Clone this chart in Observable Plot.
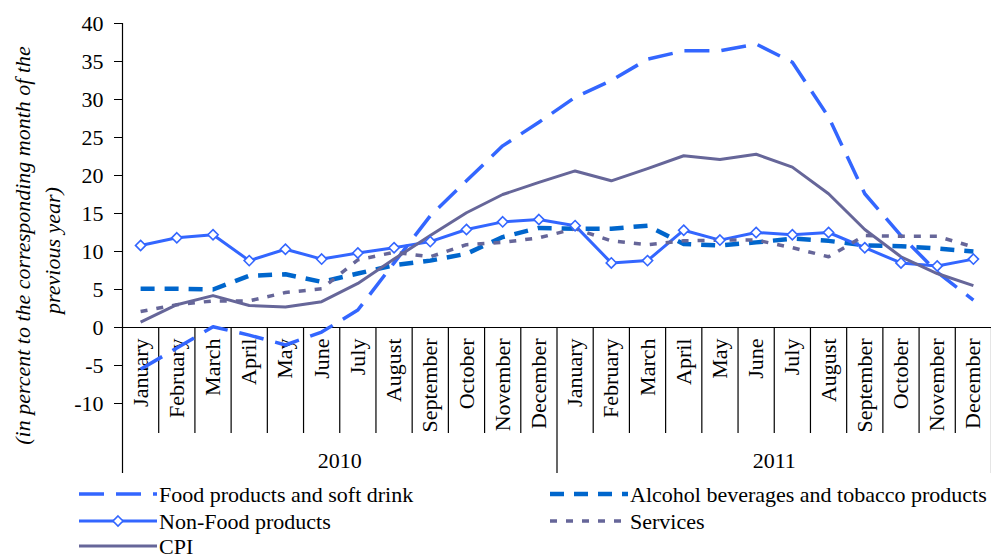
<!DOCTYPE html>
<html>
<head>
<meta charset="utf-8">
<script src="https://cdn.jsdelivr.net/npm/d3@7"></script>
<script src="https://cdn.jsdelivr.net/npm/@observablehq/plot@0.6"></script>
<style>
  html, body { margin: 0; padding: 0; background: white; }
  #wrap { width: 991px; height: 558px; position: relative; overflow: hidden; font-family: "Liberation Serif", "DejaVu Serif", serif; }
  #legend { display: block; }
</style>
</head>
<body>
<div id="wrap"></div>
<script>
// ---- data ----
const monthNames = ["January","February","March","April","May","June","July","August","September","October","November","December"];
const years = ["2010", "2011"];
const months = years.flatMap(() => monthNames);
const yTicks = [-10, -5, 0, 5, 10, 15, 20, 25, 30, 35, 40];

const food     = [-5.5, -2.7, 0.1, -1.0, -2.3, -0.6, 2.3, 8.5, 14.7, 19.3, 23.9, 27.0, 30.3, 32.5, 35.3, 36.4, 36.4, 37.3, 34.9, 27.7, 17.6, 12.1, 7.3, 3.6];
const alcohol  = [5.1, 5.1, 5.0, 6.8, 7.0, 6.0, 7.1, 8.2, 8.8, 9.7, 11.9, 13.1, 13.0, 13.0, 13.4, 11.0, 10.8, 11.2, 11.7, 11.4, 10.8, 10.7, 10.4, 10.0];
const nonFood  = [10.8, 11.8, 12.2, 8.8, 10.3, 9.0, 9.8, 10.5, 11.3, 12.9, 13.9, 14.2, 13.4, 8.5, 8.8, 12.8, 11.5, 12.5, 12.2, 12.5, 10.5, 8.5, 8.1, 9.0];
const services = [2.1, 3.0, 3.5, 3.5, 4.6, 5.1, 8.9, 9.9, 9.3, 10.9, 11.2, 11.8, 13.0, 11.4, 10.9, 11.4, 11.5, 11.5, 10.5, 9.3, 12.1, 12.0, 12.0, 10.6];
const cpi      = [0.7, 3.0, 4.2, 2.9, 2.7, 3.4, 5.8, 9.0, 12.1, 15.1, 17.5, 19.1, 20.6, 19.3, 20.9, 22.6, 22.1, 22.8, 21.1, 17.6, 12.9, 9.3, 7.1, 5.5];

const seriesNames = ["Food products and soft drink", "Alcohol beverages and tobacco products", "Non-Food products", "Services", "CPI"];
const yTitle = ["(in percent to the corresponding month of the", "previous year)"];

// ---- styles ----
const FONT = "Liberation Serif, DejaVu Serif, serif";
const styles = {
  "Food products and soft drink": {stroke: "#3366FF", strokeWidth: 3.5, dash: "25,12"},
  "Alcohol beverages and tobacco products": {stroke: "#0066CC", strokeWidth: 4.5, dash: "14,10"},
  "Non-Food products": {stroke: "#3366FF", strokeWidth: 3, dash: null},
  "Services": {stroke: "#666699", strokeWidth: 3.5, dash: "7,9"},
  "CPI": {stroke: "#666699", strokeWidth: 3, dash: null}
};

const valuesBySeries = [food, alcohol, nonFood, services, cpi];
const idx = months.map((_, i) => i);
const rows = (vals) => vals.map((v, i) => ({i, v}));

const monthBounds = d3.range(1, 24).filter(b => b !== 12).map(b => b - 0.5);
const yearBounds = [11.5, 23.5];
const yearLabels = years.map((y, k) => ({x: k * 12 + 5.5, t: y}));

const Y_MONTH_BOTTOM = -13.95;
const Y_YEAR_BOTTOM = -19.2;
const Y_YEAR_LABEL = -17.6;

const lineMarks = seriesNames.map((name, k) => {
  const s = styles[name];
  return Plot.line(rows(valuesBySeries[k]), {
    x: "i", y: "v", stroke: s.stroke, strokeWidth: s.strokeWidth,
    strokeDasharray: s.dash || undefined, strokeLinecap: "butt", strokeLinejoin: "round"
  });
});

const chart = Plot.plot({
  width: 991,
  height: 480,
  marginTop: 23,
  marginBottom: 77,
  marginLeft: 122,
  marginRight: 0,
  style: {fontFamily: FONT, fontSize: "22px", background: "white", color: "black", overflow: "visible"},
  x: {domain: [-0.5, 23.5], axis: null},
  y: {domain: [-10, 40], axis: null},
  marks: [
    // category frame
    Plot.ruleY([0], {x1: -0.5, x2: 23.5, stroke: "black", strokeWidth: 1.2}),
    Plot.ruleX(monthBounds, {x: d => d, y1: 0, y2: Y_MONTH_BOTTOM, stroke: "black", strokeWidth: 1.2}),
    Plot.ruleX(yearBounds, {x: d => d, y1: 0, y2: Y_YEAR_BOTTOM, stroke: "black", strokeWidth: 1.2}),
    Plot.ruleX([-0.5], {y1: 40, y2: Y_YEAR_BOTTOM, stroke: "black", strokeWidth: 1.2}),
    Plot.axisY({ticks: yTicks, tickSize: 8, tickPadding: 11, tickFormat: d => String(d), label: null, fontSize: 22, stroke: "black"}),
    // month labels
    Plot.text(idx, {x: d => d, y: 0, text: d => months[d], rotate: -90, textAnchor: "end", lineAnchor: "middle", dy: 11, fontSize: 22, fill: "black"}),
    // year labels
    Plot.text(yearLabels, {x: "x", y: Y_YEAR_LABEL, text: "t", fontSize: 22, fill: "black"}),
    // y title (two lines)
    Plot.text([yTitle[0]], {frameAnchor: "left", rotate: -90, dx: -100, dy: 32, textAnchor: "middle", lineAnchor: "middle", fontSize: 22, fontStyle: "italic", fill: "black"}),
    Plot.text([yTitle[1]], {frameAnchor: "left", rotate: -90, dx: -70, dy: 37, textAnchor: "middle", lineAnchor: "middle", fontSize: 22, fontStyle: "italic", fill: "black"}),
    ...lineMarks,
    Plot.dot(rows(nonFood), {x: "i", y: "v", symbol: "diamond2", r: 4.6, fill: "white", stroke: "#3366FF", strokeWidth: 1.6})
  ]
});

const wrap = document.getElementById("wrap");
wrap.appendChild(chart);

// ---- legend (below the chart) ----
const legendItems = [
  {name: seriesNames[0], col: 0, row: 0},
  {name: seriesNames[1], col: 1, row: 0},
  {name: seriesNames[2], col: 0, row: 1},
  {name: seriesNames[3], col: 1, row: 1},
  {name: seriesNames[4], col: 0, row: 2}
];
const colX = [{x0: 79, x1: 157, tx: 159}, {x0: 550, x1: 628, tx: 630}];
const rowY = [14, 41, 66];
const svg = d3.create("svg").attr("id", "legend").attr("width", 991).attr("height", 78)
  .style("font-family", FONT).style("font-size", "22px");
for (const it of legendItems) {
  const s = styles[it.name];
  const c = colX[it.col], y = rowY[it.row];
  svg.append("line").attr("x1", c.x0).attr("x2", c.x1).attr("y1", y).attr("y2", y)
    .attr("stroke", s.stroke).attr("stroke-width", s.strokeWidth)
    .attr("stroke-dasharray", s.dash);
  if (it.name === "Non-Food products") {
    const cx = (c.x0 + c.x1) / 2;
    svg.append("path").attr("d", `M${cx},${y - 5}L${cx + 5},${y}L${cx},${y + 5}L${cx - 5},${y}Z`)
      .attr("fill", "white").attr("stroke", s.stroke).attr("stroke-width", 1.6);
  }
  svg.append("text").attr("x", c.tx).attr("y", y).attr("dy", "0.35em").attr("fill", "black").text(it.name);
}
wrap.appendChild(svg.node());
</script>
</body>
</html>
